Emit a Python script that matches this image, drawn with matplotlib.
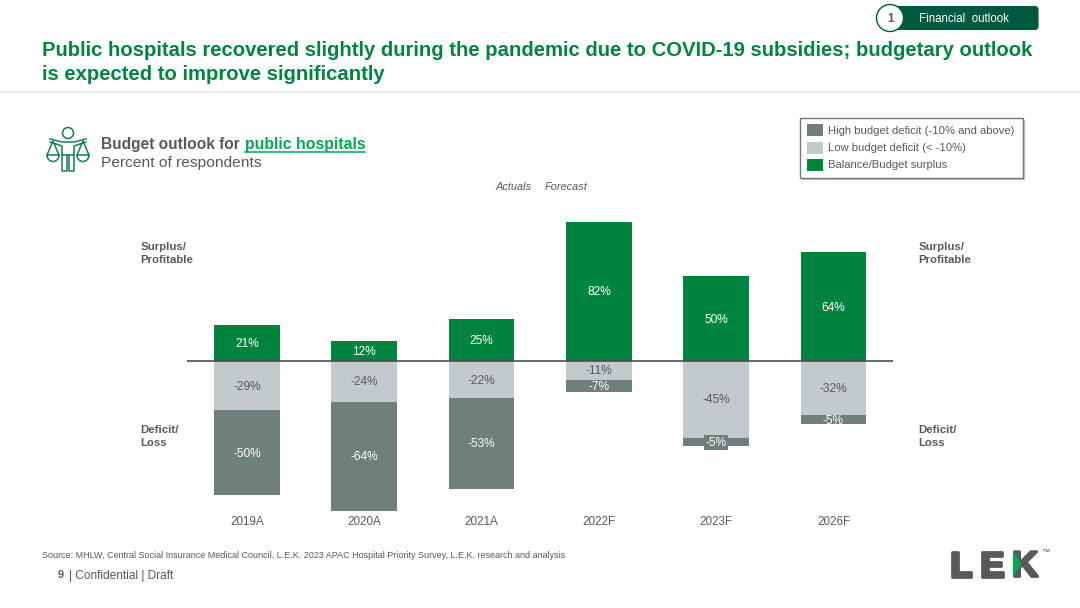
import matplotlib
matplotlib.use('Agg')
import matplotlib.pyplot as plt
from matplotlib.patches import Rectangle, FancyBboxPatch, Circle, Polygon, Arc
import matplotlib.patheffects as pe

plt.rcParams['font.family'] = ['Liberation Sans', 'DejaVu Sans']

anos = ['2019A', '2020A', '2021A', '2022F', '2023F', '2026F']
superavit = [21, 12, 25, 82, 50, 64]
deficit_baixo = [-29, -24, -22, -11, -45, -32]
deficit_alto = [-50, -64, -53, -7, -5, -5]

legendas = ['High budget deficit (-10% and above)', 'Low budget deficit (< -10%)', 'Balance/Budget surplus']

VERDE = '#00843D'
VERDE_ESCURO = '#00593F'
CINZA_ESCURO = '#6F7F7B'
CINZA_CLARO = '#C3CACC'
TEXTO = '#58595B'

fig = plt.figure(figsize=(10.8, 6.08), dpi=100, facecolor='white')

# camada de fundo em pixels, para textos e icones
bg = fig.add_axes([0, 0, 1, 1])
bg.set_xlim(0, 1080)
bg.set_ylim(608, 0)
bg.axis('off')

# grafico principal
topo, base = 215, 513
esq, dir_ = 187, 893
ax = fig.add_axes([esq / 1080, 1 - base / 608, (dir_ - esq) / 1080, (base - topo) / 608])
ax.patch.set_alpha(0)
ax.set_xlim((esq - 247) / 117.3, (dir_ - 247) / 117.3)
ax.set_ylim(-(base - 361) / 1.7, (361 - topo) / 1.7)
x = list(range(len(anos)))
ax.bar(x, superavit, width=0.56, color=VERDE)
ax.bar(x, deficit_baixo, width=0.56, color=CINZA_CLARO)
ax.bar(x, deficit_alto, width=0.56, bottom=deficit_baixo, color=CINZA_ESCURO)
ax.axhline(0, color='#4A4F4D', lw=1.2, zorder=5)

# um pouco abaixo do centro, como na referencia
desloc = -0.6
for i in x:
    ax.text(i, superavit[i] / 2 + desloc, f'{superavit[i]}%', ha='center', va='center', color='white', fontsize=8.6)
    ax.text(i, deficit_baixo[i] / 2 + desloc, f'{deficit_baixo[i]}%', ha='center', va='center', color=TEXTO, fontsize=8.6)
    caixa = None
    if anos[i] == '2023F':
        caixa = dict(facecolor=CINZA_ESCURO, edgecolor='none', pad=1)
    ax.text(i, deficit_baixo[i] + deficit_alto[i] / 2 + desloc, f'{deficit_alto[i]}%', ha='center', va='center',
            color='white', fontsize=8.6, bbox=caixa)

ax.set_xticks(x)
ax.set_xticklabels(anos, fontsize=8.4, color=TEXTO)
ax.tick_params(axis='x', length=0, pad=2)
ax.set_yticks([])
for s in ax.spines.values():
    s.set_visible(False)

# aba do topo
bg.add_patch(FancyBboxPatch((893, 6.5), 145, 23, boxstyle='round,pad=0,rounding_size=3',
                            facecolor=VERDE_ESCURO, edgecolor=VERDE_ESCURO, lw=0.8))
bg.add_patch(Circle((890, 18), 13.5, facecolor='white', edgecolor=VERDE_ESCURO, lw=1))
bg.text(890.5, 18.5, '1', ha='center', va='center', fontsize=8.4, fontweight='bold', color=TEXTO)
bg.text(963.5, 18.5, 'Financial  outlook', ha='center', va='center', fontsize=8.3, color='white')

# titulo
bg.text(42, 51, 'Public hospitals recovered slightly during the pandemic due to COVID-19 subsidies; budgetary outlook',
        ha='left', va='center', fontsize=14.55, fontweight='bold', color=VERDE)
bg.text(42, 75, 'is expected to improve significantly', ha='left', va='center', fontsize=14.55,
        fontweight='bold', color=VERDE)
bg.plot([0, 1080], [92, 92], color='#E6E6E6', lw=1.2)

# subtitulo
bg.text(101, 144, 'Budget outlook for', ha='left', va='center', fontsize=11.2, fontweight='bold', color=TEXTO)
bg.text(245, 144, 'public hospitals', ha='left', va='center', fontsize=11.4, fontweight='bold', color='#00A651')
bg.plot([245, 364.5], [151.5, 151.5], color='#00A651', lw=1.1)
bg.text(101, 163, 'Percent of respondents', ha='left', va='center', fontsize=11.15, color=TEXTO)

# icone da balanca
cor = '#1B7A5A'
lw_ic = 1.1
bg.add_patch(Circle((68, 133), 5.5, facecolor='none', edgecolor=cor, lw=lw_ic))
bg.plot([50, 62, 74, 86], [139, 142, 142, 139], color=cor, lw=lw_ic)
bg.plot([50, 62, 62, 74, 74, 86], [142, 146, 155, 155, 146, 142], color=cor, lw=lw_ic)
bg.plot([62, 62, 67, 67], [155, 171, 171, 155], color=cor, lw=lw_ic)
bg.plot([69, 69, 74, 74], [155, 171, 171, 155], color=cor, lw=lw_ic)
for cx in [53, 83]:
    bg.plot([cx - 6, cx, cx + 6], [155, 141, 155], color=cor, lw=lw_ic)
    bg.plot([cx - 6, cx + 6], [155, 155], color=cor, lw=lw_ic)
    bg.add_patch(Arc((cx, 155), 12, 13, theta1=0, theta2=180, edgecolor=cor, lw=lw_ic))

# legenda
bg.add_patch(Rectangle((802, 120), 223, 60, facecolor='#C4C4C4', edgecolor='none'))
bg.add_patch(Rectangle((799.5, 117.5), 223, 60, facecolor='white', edgecolor='#777777', lw=1))
for nome, cor_leg, y in zip(legendas, [CINZA_ESCURO, CINZA_CLARO, VERDE], [130, 147.5, 164.5]):
    bg.add_patch(Rectangle((807, y - 6), 16, 12, facecolor=cor_leg, edgecolor='none'))
    bg.text(828, y + 0.5, nome, ha='left', va='center', fontsize=8.07, color=TEXTO)

bg.text(514, 187.5, 'Actuals', ha='center', va='center', fontsize=7.9, style='italic', color=TEXTO)
bg.text(566, 187.5, 'Forecast', ha='center', va='center', fontsize=7.9, style='italic', color=TEXTO)

# rotulos laterais
for xr in [140.5, 918.5]:
    bg.text(xr, 253.5, 'Surplus/\nProfitable', ha='left', va='center', fontsize=8.2, fontweight='bold',
            color=TEXTO, linespacing=1.35)
    bg.text(xr, 436.5, 'Deficit/\nLoss', ha='left', va='center', fontsize=8.2, fontweight='bold',
            color=TEXTO, linespacing=1.35)

# rodape
bg.text(42, 555, 'Source: MHLW, Central Social Insurance Medical Council, L.E.K. 2023 APAC Hospital Priority Survey, '
        'L.E.K. research and analysis', ha='left', va='center', fontsize=6.5, color=TEXTO)
bg.text(58, 575.5, '9', ha='left', va='center', fontsize=7.8, fontweight='bold', color=TEXTO)
bg.text(69, 575.5, '| Confidential | Draft', ha='left', va='center', fontsize=8.6, color=TEXTO)

# logo
for letra, xl in zip('LEK', [950, 980, 1012]):
    bg.text(xl, 576.5, letra, ha='left', va='baseline', fontsize=26, fontweight='bold', color=TEXTO,
            path_effects=[pe.withStroke(linewidth=2, foreground=TEXTO)])
bg.add_patch(Polygon([[1013, 551], [1021.5, 564], [1013, 577]], facecolor='#00A651', edgecolor='none', zorder=4))
bg.text(1045, 552, '™', ha='center', va='center', fontsize=6, color=TEXTO)

fig.savefig('out.png', dpi=100, facecolor='white')
